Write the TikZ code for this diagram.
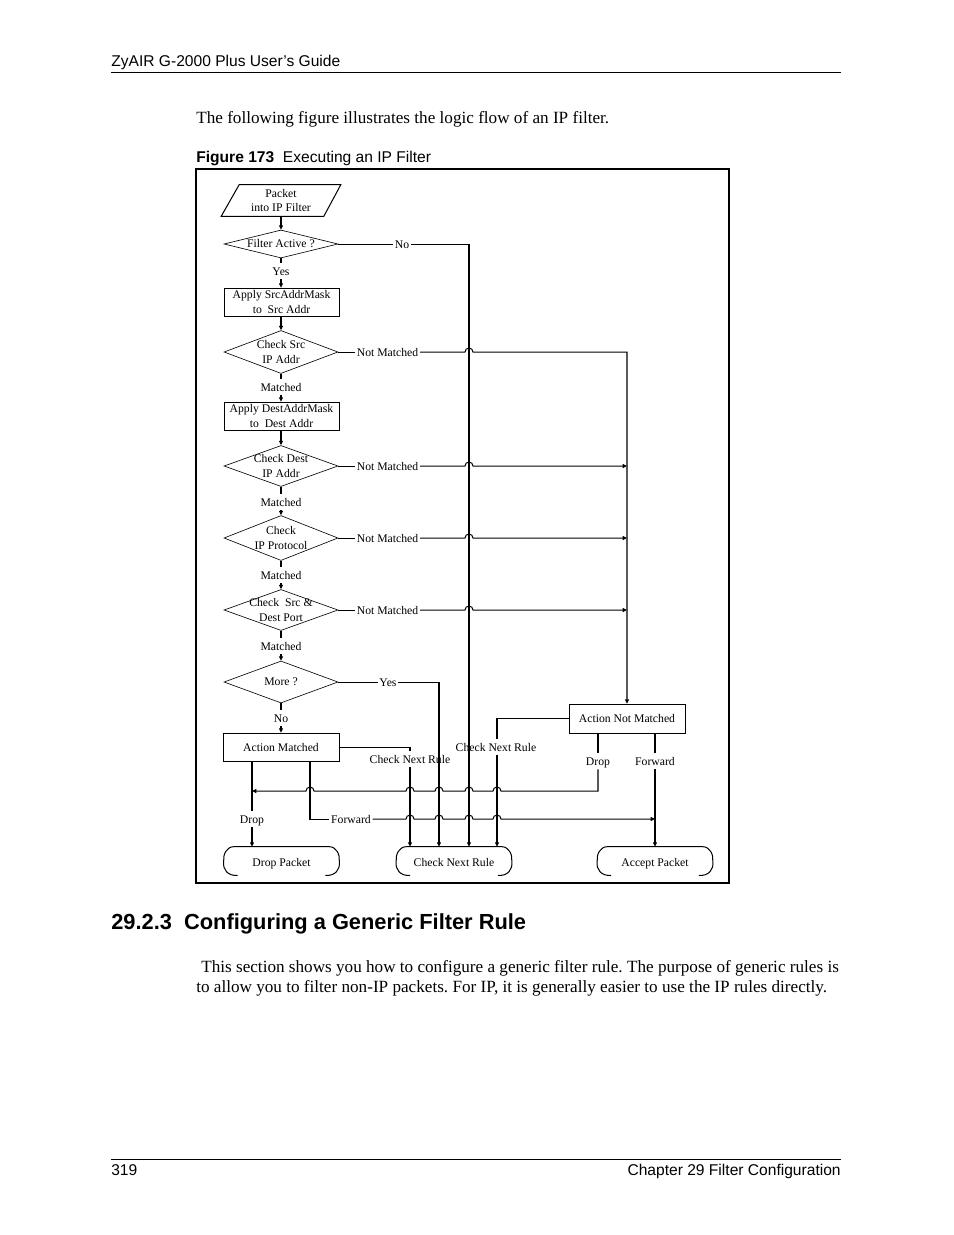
\documentclass[tikz,border=0pt]{standalone}
\usepackage{fontspec}
\setmainfont{Liberation Serif}
\newfontfamily\arialf{Liberation Sans}
\newfontfamily\serf{Liberation Serif}
\usetikzlibrary{shapes.geometric,arrows.meta,calc}
\frenchspacing
\def\u{0.6415pt}
\newcommand\figfont{\serf\fontsize{7.5}{9.3}\selectfont}
\begin{document}
\begin{tikzpicture}[x=0.6415pt,y=-0.6415pt,
  fbox/.style={draw, rectangle, minimum width=115*\u, minimum height=28*\u, inner sep=0pt, align=center, font=\figfont},
  fdia/.style={diamond, draw, minimum width=114*\u, inner sep=0pt},
  dtext/.style={align=center, font=\figfont, inner sep=0pt},
  term/.style={rectangle, minimum width=115*\u, minimum height=30*\u, inner sep=0pt, font=\figfont, text height=1.5ex, text depth=.3ex},
  lbl/.style={fill=white, inner sep=1pt, font=\figfont, text height=1.5ex, text depth=.3ex},
  conn/.style={line width=0.65pt},
  arr/.style={conn, -{Triangle[length=2.8pt,width=2.6pt]}},
  ptext/.style={anchor=base west, inner sep=0pt}
]
\fill[white] (0,0) rectangle (954,1235);
\useasboundingbox (0,0) rectangle (954,1235);

% ---------- page text ----------
\node[ptext, font=\arialf\fontsize{10}{12}\selectfont] (hdr) at (111,66) {ZyAIR G-2000 Plus User’s Guide};
\draw[line width=0.6pt] (111,72) -- (841,72);
\node[ptext, font=\serf\fontsize{11}{13}\selectfont] (intro) at (196,123) {The following figure illustrates the logic flow of an IP filter.};
\node[ptext, font=\arialf\fontsize{10}{12}\selectfont] (cap) at (196,162) {\textbf{Figure 173}\ \ Executing an IP Filter};
\node[ptext, font=\arialf\bfseries\fontsize{14}{16}\selectfont] (head) at (111,929) {29.2.3\ \ Configuring a Generic Filter Rule};
\node[ptext, font=\serf\fontsize{11}{13}\selectfont] (par1) at (201,972) {This section shows you how to configure a generic filter rule. The purpose of generic rules is};
\node[ptext, font=\serf\fontsize{11}{13}\selectfont] (par2) at (196,992) {to allow you to filter non-IP packets. For IP, it is generally easier to use the IP rules directly.};
\draw[line width=0.6pt] (111,1159) -- (841,1159);
\node[ptext, font=\arialf\fontsize{10}{12}\selectfont] (pg) at (111,1175) {319};
\node[anchor=base east, inner sep=0pt, font=\arialf\fontsize{10}{12}\selectfont] (chap) at (841,1175) {Chapter 29 Filter Configuration};

% ---------- figure frame ----------
\draw[line width=1.4pt] (196,169) rectangle (729,883);

% ---------- columns ----------
\coordinate (c252) at (252,0);
\coordinate (c310) at (310,0);
\coordinate (c410) at (410,0);
\coordinate (c439) at (439,0);
\coordinate (c469) at (469,0);
\coordinate (c497) at (497,0);
\coordinate (c598) at (598,0);
\coordinate (c627) at (627,0);
\coordinate (c655) at (655,0);
\coordinate (r791) at (0,791);

% ---------- shapes ----------
\node[rectangle, minimum width=101*\u, minimum height=31*\u, inner sep=0pt, align=center, font=\figfont] (pkt) at (281,200.5) {Packet\\into IP Filter};
\draw[conn] ($(pkt.north west)+(9,0)$) -- ($(pkt.north east)+(9,0)$) -- ($(pkt.south east)+(-8,0)$) -- ($(pkt.south west)+(-9,0)$) -- cycle;

\node[fdia, minimum height=28*\u, label={[dtext]center:{Filter Active ?}}] (d0) at (281,244) {};
\node[fbox] (a1) at (281.5,302) {Apply SrcAddrMask\\to\ \ Src Addr};
\node[fdia, minimum height=43*\u, label={[dtext]center:{Check Src\\IP Addr}}] (d1) at (281,352) {};
\node[fbox] (a2) at (281.5,416) {Apply DestAddrMask\\to\ \ Dest Addr};
\node[fdia, minimum height=41*\u, label={[dtext]center:{Check Dest\\IP Addr}}] (d2) at (281,466) {};
\node[fdia, minimum height=45*\u, label={[dtext]center:{Check\\IP Protocol}}] (d3) at (281,538) {};
\node[fdia, minimum height=41*\u, label={[dtext]center:{Check\ \ Src \&\\Dest Port}}] (d4) at (281,610) {};
\node[fdia, minimum height=42*\u, label={[dtext]center:{More ?}}] (d5) at (281,682) {};
\node[fbox, minimum width=116*\u] (am) at (281,747) {Action Matched};
\node[fbox, minimum width=116*\u, minimum height=29*\u] (anm) at (627,718.5) {Action Not Matched};

\node[term] (tdrop) at (281.5,862) {Drop Packet};
\node[term] (tcnr) at (454,862) {Check Next Rule};
\node[term] (tacc) at (655,862) {Accept Packet};
\foreach \t in {tdrop,tcnr,tacc}{
  \draw[conn] ($(\t.south west)+(14,-2)$) .. controls ($(\t.south west)+(4,-1)$) and ($(\t.south west)+(-1,-8)$) .. ($(\t.west)$)
     .. controls ($(\t.north west)+(-1,8)$) and ($(\t.north west)+(3,0)$) .. ($(\t.north west)+(10,0)$)
     -- ($(\t.north east)+(-10,0)$)
     .. controls ($(\t.north east)+(-3,0)$) and ($(\t.north east)+(1,8)$) .. ($(\t.east)$)
     .. controls ($(\t.south east)+(1,-8)$) and ($(\t.south east)+(-4,-1)$) .. ($(\t.south east)+(-14,-2)$);
}

% ---------- labels ----------
\node[lbl] (lY0) at (281,271) {Yes};
\node[lbl] (lM1) at (281,387) {Matched};
\node[lbl] (lM2) at (281,502) {Matched};
\node[lbl] (lM3) at (281,575) {Matched};
\node[lbl] (lM4) at (281,646) {Matched};
\node[lbl] (lN5) at (281,718) {No};
\node[lbl] (lN0) at (402,244) {No};
\node[lbl] (lNM1) at (387.5,352) {Not Matched};
\node[lbl] (lNM2) at (387.5,466) {Not Matched};
\node[lbl] (lNM3) at (387.5,538) {Not Matched};
\node[lbl] (lNM4) at (387.5,610) {Not Matched};
\node[lbl] (lY5) at (388,682) {Yes};
\node[lbl] (lC1) at (410,759) {Check Next Rule};
\node[lbl] (lC2) at (496,747) {Check Next Rule};
\node[lbl] (lD1) at (252,819) {Drop};
\node[lbl] (lF1) at (351,819) {Forward};
\node[lbl] (lD2) at (598,761) {Drop};
\node[lbl] (lF2) at (655,761) {Forward};

% ---------- main column connectors ----------
\draw[arr] (pkt.south) -- (d0.north);
\draw[conn] (d0.south) -- (lY0.north);
\draw[arr] (lY0.south) -- (lY0.south |- a1.north);
\draw[arr] (a1.south -| d1.north) -- (d1.north);
\draw[conn] (d1.south) -- (lM1.north);
\draw[arr] (lM1.south) -- (lM1.south |- a2.north);
\draw[arr] (a2.south -| d2.north) -- (d2.north);
\draw[conn] (d2.south) -- (lM2.north);
\draw[arr] (lM2.south) -- (d3.north);
\draw[conn] (d3.south) -- (lM3.north);
\draw[arr] (lM3.south) -- (d4.north);
\draw[conn] (d4.south) -- (lM4.north);
\draw[arr] (lM4.south) -- (d5.north);
\draw[conn] (d5.south) -- (lN5.north);
\draw[arr] (lN5.south) -- (am.north);

% ---------- Not Matched connectors ----------
\draw[conn] (d1.east) -- (lNM1.west);
\draw[arr] (lNM1.east) -- ($(c469|-d1.east)+(-4,0)$) arc[start angle=180,end angle=360,radius=4] -| (anm.north);
\draw[conn] (d2.east) -- (lNM2.west);
\draw[arr] (lNM2.east) -- ($(c469|-d2.east)+(-4,0)$) arc[start angle=180,end angle=360,radius=4] -- (c627|-d2.east);
\draw[conn] (d3.east) -- (lNM3.west);
\draw[arr] (lNM3.east) -- ($(c469|-d3.east)+(-4,0)$) arc[start angle=180,end angle=360,radius=4] -- (c627|-d3.east);
\draw[conn] (d4.east) -- (lNM4.west);
\draw[arr] (lNM4.east) -- ($(c469|-d4.east)+(-4,0)$) arc[start angle=180,end angle=360,radius=4] -- (c627|-d4.east);

% ---------- More? Yes ----------
\draw[conn] (d5.east) -- (lY5.west);
\draw[arr] (lY5.east) -| (c439|-tcnr.north);

% ---------- Action Matched ----------
\draw[conn] (am.east) -| (lC1.north);
\draw[arr] (lC1.south) -- (lC1.south|-tcnr.north);
\draw[conn] (am.south-|c252) -- (lD1.north);
\draw[arr] (lD1.south) -- (lD1.south|-tdrop.north);
\draw[conn] (am.south-|c310) |- (lF1.west);
\draw[arr] (lF1.east)
  -- ($(c410|-lF1.east)+(-4,0)$) arc[start angle=180,end angle=360,radius=4]
  -- ($(c439|-lF1.east)+(-4,0)$) arc[start angle=180,end angle=360,radius=4]
  -- ($(c469|-lF1.east)+(-4,0)$) arc[start angle=180,end angle=360,radius=4]
  -- ($(c497|-lF1.east)+(-4,0)$) arc[start angle=180,end angle=360,radius=4]
  -- (c655|-lF1.east);

% ---------- Action Not Matched ----------
\draw[conn] (anm.west) -| (lC2.north -| c497);
\draw[arr] (lC2.south -| c497) -- (c497|-tcnr.north);
\draw[conn] (anm.south-|c598) -- (lD2.north);
\draw[arr] (lD2.south) -- (c598|-r791)
  -- ($(c497|-r791)+(4,0)$) arc[start angle=0,end angle=-180,radius=4]
  -- ($(c469|-r791)+(4,0)$) arc[start angle=0,end angle=-180,radius=4]
  -- ($(c439|-r791)+(4,0)$) arc[start angle=0,end angle=-180,radius=4]
  -- ($(c410|-r791)+(4,0)$) arc[start angle=0,end angle=-180,radius=4]
  -- ($(c310|-r791)+(4,0)$) arc[start angle=0,end angle=-180,radius=4]
  -- (c252|-r791);
\draw[conn] (anm.south-|c655) -- (lF2.north);
\draw[arr] (lF2.south) -- (tacc.north);

% ---------- Filter Active? No ----------
\draw[conn] (d0.east) -- (lN0.west);
\draw[arr] (lN0.east) -| (c469|-tcnr.north);
\end{tikzpicture}
\end{document}
